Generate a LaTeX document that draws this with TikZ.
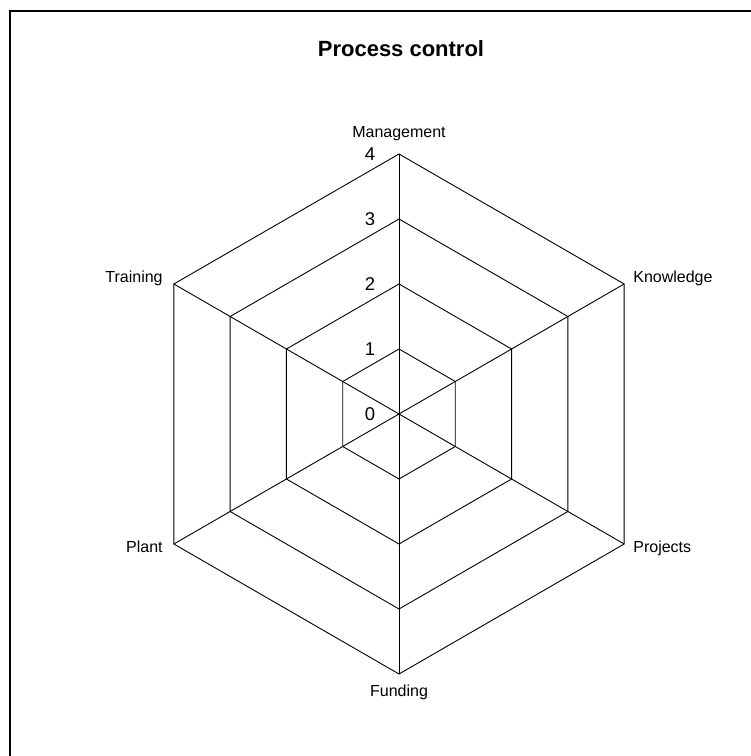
\documentclass[tikz,border=0pt]{standalone}
\usepackage{fontspec}
\setmainfont{Liberation Sans}
\begin{document}
\begin{tikzpicture}[x=1pt,y=1pt,
  grid/.style={line width=0.9pt, black, line join=miter},
  axislabel/.style={font=\fontsize{16}{19}\selectfont, inner sep=0pt},
  ticklabel/.style={font=\fontsize{18.5}{22}\selectfont, inner sep=0pt},
  titlelabel/.style={font=\bfseries\fontsize{22}{26}\selectfont, inner sep=0pt},
]
\useasboundingbox (0,0) rectangle (751,756);
% frame (open to the right and bottom)
\draw[line width=2pt] (10,0) -- (10,745) -- (751,745);
% title
\node[titlelabel, anchor=base] (title) at (401,699) {Process control};
% radar grid
\coordinate (O) at (399,342);
\foreach \k in {1,...,4} {
  \foreach \i/\a in {1/90,2/30,3/-30,4/-90,5/-150,6/150} {
    \path (O) ++(\a:{65*\k}) coordinate (v\k-\i);
  }
  \draw[grid] (v\k-1) -- (v\k-2) -- (v\k-3) -- (v\k-4) -- (v\k-5) -- (v\k-6) -- cycle;
}
\foreach \i in {1,...,6} {
  \draw[grid] (O) -- (v4-\i);
}
% scale values
\node[ticklabel] (t0) at ([xshift=-29pt]O) {0};
\foreach \k in {1,...,4} {
  \node[ticklabel] (t\k) at ([xshift=-29pt]v\k-1) {\k};
}
% axis names
\node[axislabel, anchor=base] (management) at ([yshift=16pt]v4-1) {Management};
\node[axislabel, anchor=base west] (knowledge) at ([xshift=9pt,yshift=1pt]v4-2) {Knowledge};
\node[axislabel, anchor=base west] (projects) at ([xshift=9pt,yshift=-9pt]v4-3) {Projects};
\node[axislabel, anchor=base] (funding) at ([yshift=-23pt]v4-4) {Funding};
\node[axislabel, anchor=base east] (plant) at ([xshift=-11pt,yshift=-9pt]v4-5) {Plant};
\node[axislabel, anchor=base east] (training) at ([xshift=-11pt,yshift=1pt]v4-6) {Training};
\end{tikzpicture}
\end{document}
